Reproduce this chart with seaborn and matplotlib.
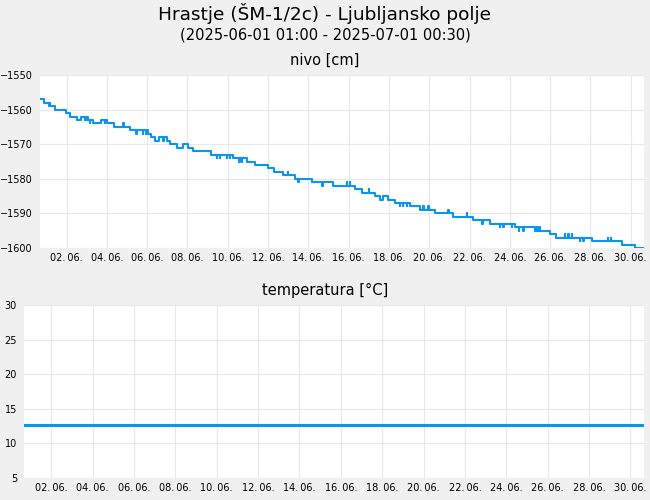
import pandas as pd
import numpy as np
import matplotlib
matplotlib.use("Agg")
import matplotlib.pyplot as plt
import seaborn as sns

YEAR = "2025-"

# step changes of the water level (cm)
level_times = ["06-01 01:00", "06-01 06:00", "06-01 11:45", "06-01 18:50", "06-02 07:30",
               "06-02 12:45", "06-02 21:30", "06-03 02:15", "06-03 07:45", "06-03 15:45",
               "06-04 01:45", "06-04 09:00", "06-04 17:30", "06-05 12:15", "06-06 09:55",
               "06-06 12:50", "06-06 18:20", "06-06 23:05", "06-07 07:55", "06-07 11:50",
               "06-07 19:45", "06-08 03:40", "06-08 09:40", "06-08 14:55", "06-09 12:20",
               "06-10 15:15", "06-11 07:15", "06-11 17:05", "06-12 09:00", "06-12 15:40",
               "06-13 02:45", "06-13 16:50", "06-14 12:35", "06-15 14:25", "06-16 16:10",
               "06-17 00:05", "06-17 16:05", "06-17 21:55", "06-18 01:55", "06-18 07:55",
               "06-18 15:50", "06-19 09:40", "06-19 21:40", "06-20 15:25", "06-21 13:15",
               "06-22 13:00", "06-23 08:55", "06-24 14:45", "06-25 14:40", "06-26 08:30",
               "06-26 15:10", "06-28 10:05", "06-29 21:55", "06-30 13:40", "07-01 00:30"]
level_values = [-1557, -1558, -1559, -1560, -1561, -1562, -1563, -1562, -1563, -1564,
                -1563, -1564, -1565, -1566, -1567, -1568, -1569, -1568, -1569, -1570,
                -1571, -1570, -1571, -1572, -1573, -1574, -1575, -1576, -1577, -1578,
                -1579, -1580, -1581, -1582, -1583, -1584, -1585, -1586, -1585, -1586,
                -1587, -1588, -1589, -1590, -1591, -1592, -1593, -1594, -1595, -1596,
                -1597, -1598, -1599, -1600, -1600]

# short one-reading excursions (30 min)
spike_times = ["06-01 13:00", "06-03 06:30", "06-03 09:30", "06-03 12:30", "06-04 06:30",
               "06-05 04:10", "06-05 19:45", "06-06 03:40", "06-06 07:15", "06-07 03:55",
               "06-09 19:30", "06-09 23:20", "06-10 07:25", "06-10 11:20", "06-10 22:20",
               "06-11 01:15", "06-13 08:25", "06-13 20:40", "06-15 01:15", "06-16 06:45",
               "06-16 10:10", "06-17 09:00", "06-18 21:50", "06-19 01:15", "06-19 05:45",
               "06-20 01:30", "06-20 07:30", "06-21 07:15", "06-22 05:35", "06-22 23:50",
               "06-23 20:55", "06-24 00:50", "06-24 10:50", "06-24 19:30", "06-25 00:45",
               "06-25 16:35", "06-25 19:40", "06-27 02:25", "06-27 06:15", "06-27 10:20",
               "06-27 20:10", "06-28 00:00", "06-29 05:05", "06-29 08:40"]
spike_values = [-1558, -1563, -1562, -1564, -1564,
                -1564, -1567, -1567, -1567, -1569,
                -1574, -1574, -1574, -1574, -1575,
                -1575, -1578, -1581, -1582, -1581,
                -1581, -1583, -1588, -1588, -1588,
                -1588, -1588, -1589, -1590, -1593,
                -1594, -1594, -1594, -1595, -1595,
                -1594, -1594, -1596, -1596, -1596,
                -1598, -1598, -1597, -1597]

temp_times = ["06-01 01:00", "07-01 00:30"]
temp_values = [12.7, 12.7]

tick_days = ["06-02", "06-04", "06-06", "06-08", "06-10", "06-12", "06-14", "06-16",
             "06-18", "06-20", "06-22", "06-24", "06-26", "06-28", "06-30"]

BLUE = "#0a96ee"
BG = "#f0f0f0"

# build the level series: steps plus spikes returning to the level
lv = pd.DataFrame({"t": pd.to_datetime([YEAR + t for t in level_times]), "v": level_values})
sp = pd.DataFrame({"t": pd.to_datetime([YEAR + t for t in spike_times]), "v": spike_values})
back = sp.copy()
back["t"] = back["t"] + pd.Timedelta(minutes=30)
back["v"] = [lv.loc[lv["t"] <= t, "v"].iloc[-1] for t in back["t"]]
nivo = pd.concat([lv, sp, back]).sort_values("t", kind="stable").reset_index(drop=True)

temp = pd.DataFrame({"t": pd.to_datetime([YEAR + t for t in temp_times]), "v": temp_values})

sns.set_style("whitegrid", {"grid.color": "#e8e8e8", "axes.edgecolor": "white",
                            "axes.facecolor": "white", "figure.facecolor": BG})
plt.rcParams["font.family"] = ["DejaVu Sans"]
plt.rcParams["text.color"] = "black"

fig = plt.figure(figsize=(6.5, 5), dpi=100)
fig.patch.set_facecolor(BG)
ax1 = fig.add_axes([40 / 650, 1 - 248 / 500, 604 / 650, 173 / 500])
ax2 = fig.add_axes([24 / 650, 1 - 478 / 500, 620 / 650, 173 / 500])

sns.lineplot(data=nivo, x="t", y="v", ax=ax1, color=BLUE, linewidth=1.5,
             drawstyle="steps-post", sort=False)
sns.lineplot(data=temp, x="t", y="v", ax=ax2, color=BLUE, linewidth=2.2)

xmin = pd.Timestamp(YEAR + "06-01 01:00")
xmax = pd.Timestamp(YEAR + "07-01 00:30")
ticks = [pd.Timestamp(YEAR + d) + pd.Timedelta(hours=8, minutes=40) for d in tick_days]
labels = [pd.Timestamp(YEAR + d).strftime("%d.\u2009%m.") for d in tick_days]

for ax in (ax1, ax2):
    ax.set_xlim(xmin, xmax)
    ax.set_xticks(ticks)
    ax.set_xticklabels(labels)
    ax.set_xlabel("")
    ax.set_ylabel("")
    ax.tick_params(axis="x", length=0, labelsize=7, colors="black", pad=3.5)
    ax.tick_params(axis="y", length=0, labelsize=7, colors="black", pad=5)
    ax.grid(True, color="#e8e8e8", linewidth=0.8)
    for s in ax.spines.values():
        s.set_visible(False)

ax1.set_ylim(-1600, -1550)
ax1.set_yticks(np.arange(-1600, -1549, 10))
ax2.set_ylim(5, 30)
ax2.set_yticks(np.arange(5, 31, 5))

fig.text(0.5, 1 - 14 / 500, "Hrastje (ŠM-1/2c) - Ljubljansko polje", ha="center", va="center",
         fontsize=13.3, color="black")
fig.text(0.5, 1 - 35 / 500, "(2025-06-01 01:00 - 2025-07-01 00:30)", ha="center", va="center",
         fontsize=10.5, color="black")
fig.text(0.5, 1 - 60 / 500, "nivo [cm]", ha="center", va="center", fontsize=10.5, color="black")
fig.text(0.5, 1 - 290 / 500, "temperatura [°C]", ha="center", va="center", fontsize=10.5,
         color="black")

fig.savefig("out.png", dpi=100, facecolor=BG)
